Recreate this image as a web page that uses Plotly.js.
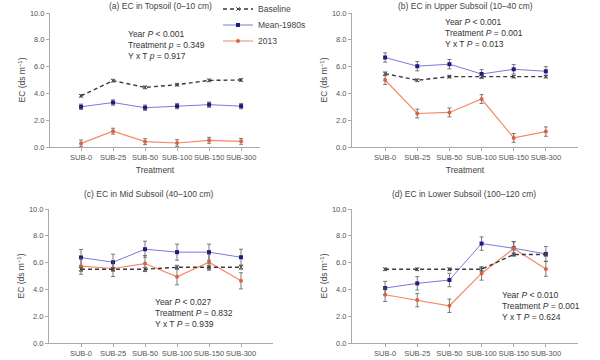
<!DOCTYPE html>
<html>
<head>
<meta charset="utf-8">
<script src="https://cdn.plot.ly/plotly-3.0.1.min.js"></script>
<style>html,body{margin:0;padding:0;background:#fff}#chart{width:600px;height:360px}</style>
</head>
<body>
<div id="chart"></div>
<script>
const treatments = ["SUB-0", "SUB-25", "SUB-50", "SUB-100", "SUB-150", "SUB-300"];

// (a) Topsoil 0-10 cm
const aBaseline = [3.82, 4.95, 4.45, 4.65, 4.97, 5.0];
const aBaselineErr = [0.1, 0.1, 0.1, 0.1, 0.1, 0.1];
const aMean1980s = [3.0, 3.32, 2.93, 3.05, 3.16, 3.05];
const aMean1980sErr = [0.2, 0.2, 0.2, 0.2, 0.2, 0.2];
const a2013 = [0.27, 1.18, 0.4, 0.3, 0.5, 0.42];
const a2013Err = [0.25, 0.22, 0.22, 0.25, 0.22, 0.22];

// (b) Upper subsoil 10-40 cm
const bBaseline = [5.48, 4.98, 5.25, 5.25, 5.25, 5.25];
const bBaselineErr = [0.12, 0.1, 0.1, 0.1, 0.1, 0.1];
const bMean1980s = [6.68, 6.03, 6.18, 5.45, 5.8, 5.65];
const bMean1980sErr = [0.35, 0.35, 0.35, 0.33, 0.35, 0.35];
const b2013 = [5.0, 2.5, 2.58, 3.58, 0.68, 1.15];
const b2013Err = [0.33, 0.33, 0.33, 0.33, 0.33, 0.35];

// (c) Mid subsoil 40-100 cm
const cBaseline = [5.5, 5.5, 5.5, 5.65, 5.65, 5.65];
const cBaselineErr = [0.15, 0.15, 0.15, 0.15, 0.15, 0.15];
const cMean1980s = [6.38, 6.03, 7.0, 6.78, 6.78, 6.4];
const cMean1980sErr = [0.6, 0.6, 0.6, 0.6, 0.6, 0.6];
const c2013 = [5.73, 5.56, 5.93, 4.94, 6.03, 4.64];
const c2013Err = [0.6, 0.6, 0.6, 0.6, 0.6, 0.6];

// (d) Lower subsoil 100-120 cm
const dBaseline = [5.5, 5.5, 5.5, 5.5, 6.6, 6.6];
const dBaselineErr = [0.1, 0.1, 0.1, 0.15, 0.12, 0.12];
const dMean1980s = [4.1, 4.45, 4.7, 7.42, 7.07, 6.65];
const dMean1980sErr = [0.5, 0.5, 0.5, 0.5, 0.5, 0.55];
const d2013 = [3.6, 3.2, 2.78, 5.19, 7.05, 5.53];
const d2013Err = [0.5, 0.5, 0.5, 0.5, 0.5, 0.55];

const seriesNames = ["Baseline", "Mean-1980s", "2013"];
const panelTitles = ["(a) EC in Topsoil (0–10 cm)", "(b) EC in Upper Subsoil (10–40 cm)",
                     "(c) EC in Mid Subsoil (40–100 cm)", "(d) EC in Lower Subsoil (100–120 cm)"];
const statTexts = [
  ["Year <i>P</i> &lt; 0.001", "Treatment <i>p</i> = 0.349", "Y x T <i>p</i> = 0.917"],
  ["Year <i>P</i> &lt; 0.001", "Treatment <i>P</i> = 0.001", "Y x T <i>P</i> = 0.013"],
  ["Year <i>P</i> &lt; 0.027", "Treatment <i>P</i> = 0.832", "Y x T <i>P</i> = 0.939"],
  ["Year <i>P</i> &lt; 0.010", "Treatment <i>P</i> = 0.001", "Y x T <i>P</i> = 0.624"]
];

const W = 600, H = 360;
const px = v => v / W;           // pixel x -> paper
const py = v => (H - v) / H;     // pixel y (from top) -> paper

const panels = [
  {xa: "x", ya: "y", base: aBaseline, baseE: aBaselineErr, mean: aMean1980s, meanE: aMean1980sErr, s13: a2013, s13E: a2013Err},
  {xa: "x2", ya: "y2", base: bBaseline, baseE: bBaselineErr, mean: bMean1980s, meanE: bMean1980sErr, s13: b2013, s13E: b2013Err},
  {xa: "x3", ya: "y3", base: cBaseline, baseE: cBaselineErr, mean: cMean1980s, meanE: cMean1980sErr, s13: c2013, s13E: c2013Err},
  {xa: "x4", ya: "y4", base: dBaseline, baseE: dBaselineErr, mean: dMean1980s, meanE: dMean1980sErr, s13: d2013, s13E: d2013Err}
];

const errStyle = {type: "data", color: "#5a5a5a", thickness: 0.8, width: 2};
const traces = [];
panels.forEach((p, i) => {
  traces.push({
    x: treatments, y: p.mean, xaxis: p.xa, yaxis: p.ya, name: seriesNames[1], type: "scatter", mode: "lines+markers",
    line: {color: "#7a7ad8", width: 1}, marker: {color: "#1c1c86", size: 4, symbol: "square"},
    error_y: Object.assign({array: p.meanE}, errStyle), showlegend: i === 0, legend: "legend2"
  });
  traces.push({
    x: treatments, y: p.s13, xaxis: p.xa, yaxis: p.ya, name: seriesNames[2], type: "scatter", mode: "lines+markers",
    line: {color: "#f2896a", width: 1.2}, marker: {color: "#e0603e", size: 4, symbol: "circle"},
    error_y: Object.assign({array: p.s13E}, errStyle), showlegend: i === 0, legend: "legend3"
  });
  traces.push({
    x: treatments, y: p.base, xaxis: p.xa, yaxis: p.ya, name: seriesNames[0], type: "scatter", mode: "lines+markers",
    line: {color: "#3a3a3a", width: 1.4, dash: "4px,3px"}, marker: {color: "#3a3a3a", size: 3.5, symbol: "x-thin-open", line: {width: 1, color: "#3a3a3a"}},
    error_y: Object.assign({array: p.baseE}, errStyle), showlegend: i === 0, legend: "legend"
  });
});

const FAM = "Liberation Sans, Arial, sans-serif";
const tickFont = {family: FAM, size: 7.5, color: "#555"};
function xAxis(domain, range, anchor, withTitle) {
  const ax = {
    domain: domain, range: range, anchor: anchor, type: "category",
    showline: true, linecolor: "#aaa", linewidth: 1, ticks: "outside", ticklen: 3, tickcolor: "#aaa",
    showgrid: false, zeroline: false, tickfont: tickFont, tickangle: 0, fixedrange: true
  };
  if (withTitle) ax.title = {text: "Treatment", font: {family: FAM, size: 8.5, color: "#444"}, standoff: 6};
  return ax;
}
function yAxis(domain, anchor) {
  return {
    domain: domain, range: [0, 10], anchor: anchor, tickvals: [0, 2, 4, 6, 8, 10], tickformat: ".1f",
    showline: true, linecolor: "#aaa", linewidth: 1, ticks: "outside", ticklen: 3, tickcolor: "#aaa",
    showgrid: false, zeroline: false, tickfont: tickFont, fixedrange: true,
    title: {text: "EC (ds m<sup>−1</sup>)", font: {family: FAM, size: 8.5, color: "#444"}, standoff: 2}
  };
}
function legendAt(xPix, yPix) {
  return {x: px(xPix), y: py(yPix), xanchor: "left", yanchor: "middle", bgcolor: "rgba(0,0,0,0)",
    font: {family: FAM, size: 8.5, color: "#444"}, itemwidth: 30, borderwidth: 0};
}

const annFont = {family: FAM, size: 8.5, color: "#333"};
const titleFont = {family: FAM, size: 8.5, color: "#444"};
const statPos = [[126, 34], [443, 22], [153, 302], [500, 295]];
const titlePos = [[160, 6], [465, 6], [149, 194], [464, 194]];
const annotations = [];
panelTitles.forEach((t, i) => {
  annotations.push({xref: "paper", yref: "paper", x: px(titlePos[i][0]), y: py(titlePos[i][1]), xanchor: "center", yanchor: "middle",
    showarrow: false, text: t, font: titleFont});
});
statTexts.forEach((lines, i) => {
  lines.forEach((line, j) => {
    annotations.push({xref: "paper", yref: "paper", x: px(statPos[i][0]), y: py(statPos[i][1] + j * 10.8),
      xanchor: "left", yanchor: "middle", showarrow: false, text: line, font: annFont});
  });
});

const layout = {
  width: W, height: H, margin: {l: 0, r: 0, t: 0, b: 0, autoexpand: false},
  paper_bgcolor: "#fff", plot_bgcolor: "#fff", showlegend: true,
  legend: legendAt(218, 9),
  legend2: legendAt(218, 25),
  legend3: legendAt(218, 41),
  xaxis: xAxis([px(50), px(260)], [-0.97, 5.59], "y", true),
  yaxis: yAxis([py(147), py(13)], "x"),
  xaxis2: xAxis([px(352), px(578)], [-1.03, 6.0], "y2", true),
  yaxis2: yAxis([py(147), py(13)], "x2"),
  xaxis3: xAxis([px(49), px(273)], [-1.0, 6.0], "y3", false),
  yaxis3: yAxis([py(343), py(209)], "x3"),
  xaxis4: xAxis([px(352), px(578)], [-1.03, 6.0], "y4", false),
  yaxis4: yAxis([py(343), py(209)], "x4"),
  annotations: annotations
};

Plotly.newPlot("chart", traces, layout, {staticPlot: true, displayModeBar: false});
</script>
</body>
</html>
